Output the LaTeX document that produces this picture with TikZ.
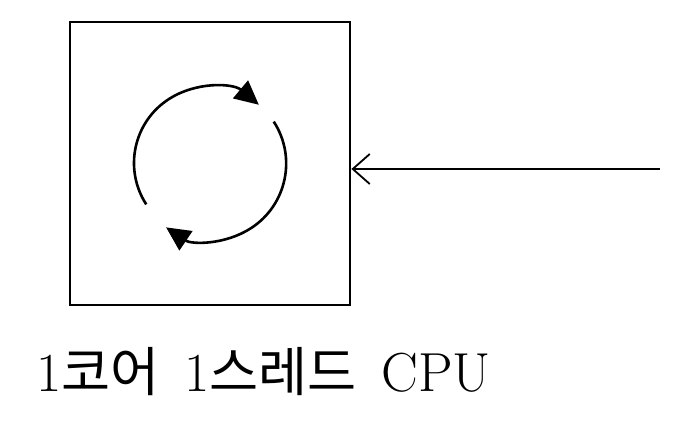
\documentclass[tikz,border=0pt]{standalone}
\usepackage{fontspec}
\newfontfamily\cjk{Noto Sans CJK KR}[Scale=0.97]
\usetikzlibrary{arrows.meta,calc}
\tikzset{
  cpubox/.style={draw, line width=2.8pt, minimum width=280pt, minimum height=283pt, inner sep=0pt},
  cycle/.style={line width=2.6pt, -{Triangle[length=24pt,width=23pt]}},
  feed/.style={line width=1.8pt, {Straight Barb[length=17pt,width=30pt,line width=1.8pt]}-}
}

\begin{document}
\begin{tikzpicture}[x=1pt,y=1pt]
			\useasboundingbox (0,0) rectangle (674,433);
			\node[cpubox] (cpu) at (210,269.5) {};
			% the two turning arcs
			\coordinate (c) at (210,270);
			\draw[cycle] ($(c)+(213:76)$) arc[start angle=213, end angle=50, radius=76];
			\draw[cycle] ($(c)+(33:76)$) arc[start angle=33, end angle=-124, radius=77];
			% input line
			\coordinate (in) at (660,264);
			\draw[feed] (cpu.east |- in) -- (in);
			\node[anchor=base west, inner sep=0pt, font=\fontsize{55}{62}\selectfont] (label) at (36,41)
			  {1{\cjk 코어}\hspace{8pt} 1{\cjk 스레드}\hspace{8pt} CPU};
\end{tikzpicture}
\end{document}
